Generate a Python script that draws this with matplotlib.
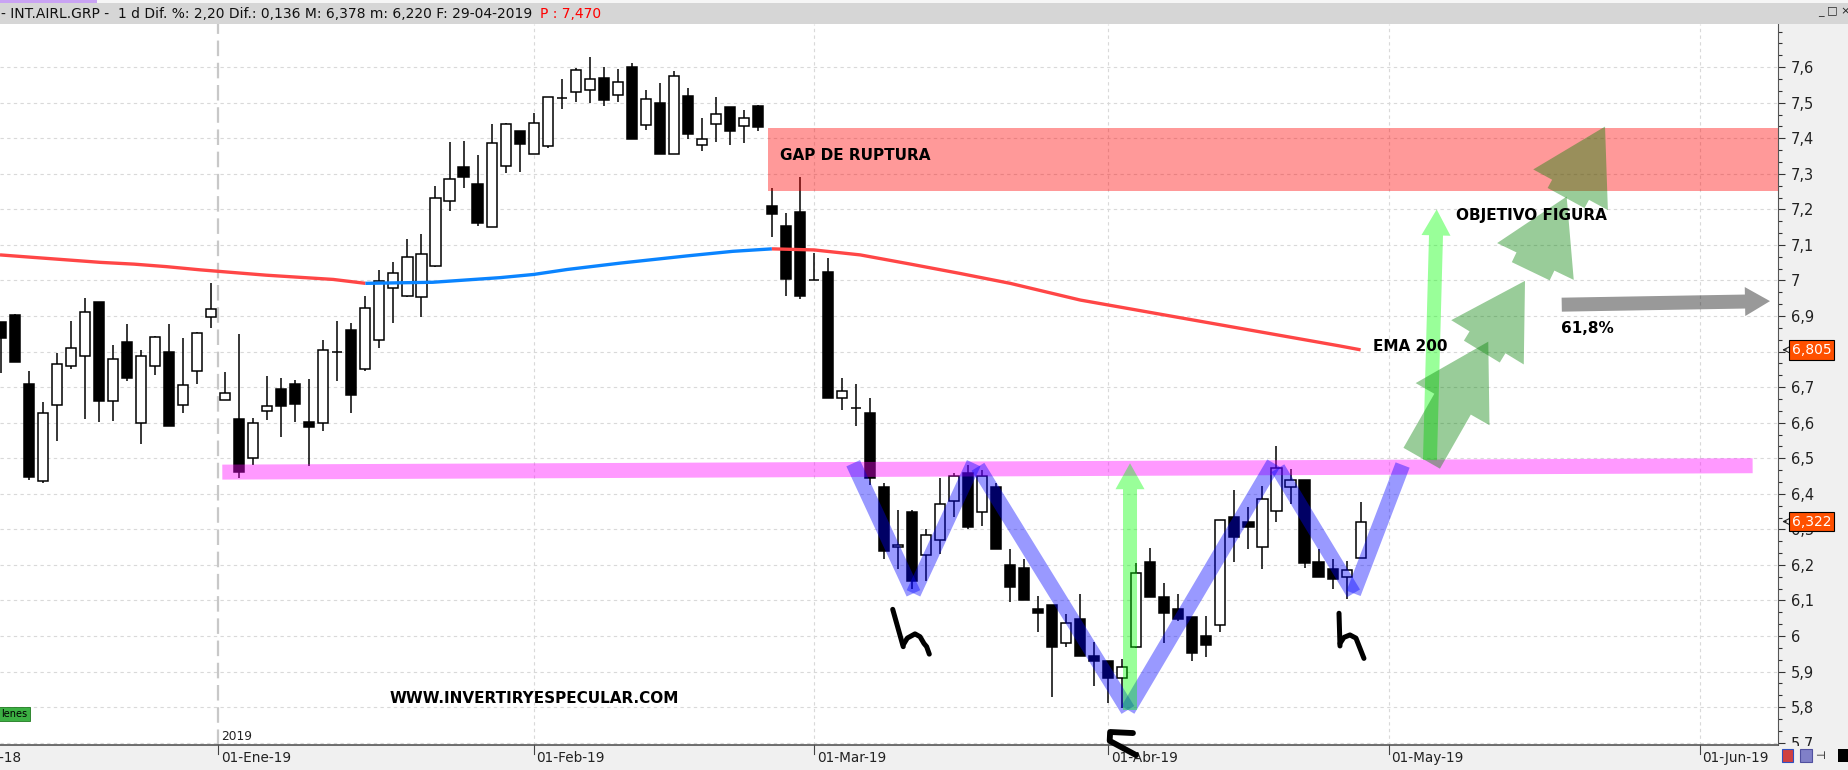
import numpy as np
import matplotlib
matplotlib.use("Agg")
import matplotlib.pyplot as plt
import matplotlib.transforms as mtransforms
from matplotlib.patches import Polygon, Rectangle
from matplotlib.ticker import FixedLocator, AutoMinorLocator, FuncFormatter

# velas diarias INT.AIRL.GRP; sesion 1 = primera visible (dic-2018), sesion 98 = 29-04-2019
opens = [6.884, 6.903, 6.709, 6.435, 6.649, 6.760, 6.787, 6.940, 6.660, 6.827,
         6.598, 6.759, 6.799, 6.649, 6.745, 6.896, 6.663, 6.610, 6.500, 6.632,
         6.695, 6.709, 6.602, 6.598, 6.798, 6.861, 6.750, 6.834, 6.978, 6.957,
         6.953, 7.042, 7.225, 7.319, 7.271, 7.150, 7.321, 7.421, 7.355, 7.379,
         7.514, 7.529, 7.535, 7.569, 7.521, 7.600, 7.436, 7.499, 7.355, 7.519,
         7.380, 7.439, 7.488, 7.434, 7.491, 7.210, 7.153, 7.193, 7.001, 7.024,
         6.669, 6.640, 6.627, 6.419, 6.249, 6.348, 6.227, 6.269, 6.379, 6.458,
         6.348, 6.419, 6.200, 6.191, 6.076, 6.087, 5.980, 6.048, 5.944, 5.930,
         5.881, 5.970, 6.207, 6.109, 6.075, 6.053, 5.999, 6.030, 6.335, 6.320,
         6.250, 6.351, 6.418, 6.439, 6.207, 6.188, 6.165, 6.220]
highs = [6.884, 6.906, 6.745, 6.658, 6.796, 6.886, 6.951, 6.940, 6.819, 6.878,
         6.805, 6.844, 6.878, 6.838, 6.855, 6.993, 6.743, 6.850, 6.613, 6.731,
         6.727, 6.720, 6.723, 6.833, 6.886, 6.880, 6.956, 7.030, 7.051, 7.117,
         7.131, 7.266, 7.390, 7.392, 7.353, 7.440, 7.443, 7.421, 7.471, 7.515,
         7.567, 7.598, 7.629, 7.600, 7.595, 7.611, 7.536, 7.556, 7.588, 7.541,
         7.457, 7.515, 7.488, 7.479, 7.495, 7.260, 7.190, 7.292, 7.076, 7.063,
         6.727, 6.709, 6.669, 6.429, 6.354, 6.354, 6.301, 6.445, 6.458, 6.482,
         6.467, 6.429, 6.245, 6.217, 6.112, 6.087, 6.062, 6.118, 5.983, 5.930,
         5.934, 6.204, 6.247, 6.148, 6.117, 6.053, 6.055, 6.325, 6.411, 6.362,
         6.422, 6.534, 6.469, 6.439, 6.245, 6.217, 6.211, 6.378]
lows = [6.741, 6.772, 6.439, 6.429, 6.549, 6.752, 6.609, 6.603, 6.606, 6.718,
        6.541, 6.734, 6.592, 6.628, 6.710, 6.865, 6.663, 6.445, 6.481, 6.608,
        6.561, 6.603, 6.479, 6.578, 6.718, 6.628, 6.746, 6.811, 6.880, 6.954,
        6.898, 7.039, 7.196, 7.261, 7.154, 7.150, 7.303, 7.306, 7.355, 7.372,
        7.483, 7.503, 7.498, 7.492, 7.503, 7.399, 7.422, 7.357, 7.355, 7.397,
        7.365, 7.389, 7.382, 7.386, 7.421, 7.123, 6.957, 6.947, 7.001, 6.670,
        6.635, 6.592, 6.425, 6.218, 6.189, 6.131, 6.155, 6.232, 6.336, 6.301,
        6.310, 6.246, 6.097, 6.100, 6.010, 5.829, 5.968, 5.945, 5.860, 5.811,
        5.797, 5.965, 6.111, 5.981, 6.043, 5.931, 5.940, 6.010, 6.208, 6.246,
        6.189, 6.322, 6.371, 6.192, 6.167, 6.133, 6.104, 6.220]
closes = [6.839, 6.772, 6.448, 6.626, 6.764, 6.809, 6.910, 6.662, 6.778, 6.727,
          6.787, 6.840, 6.592, 6.705, 6.851, 6.919, 6.683, 6.462, 6.598, 6.646,
          6.648, 6.654, 6.589, 6.804, 6.798, 6.677, 6.924, 6.999, 7.020, 7.065,
          7.074, 7.231, 7.285, 7.292, 7.163, 7.386, 7.439, 7.385, 7.442, 7.515,
          7.514, 7.591, 7.566, 7.508, 7.557, 7.399, 7.510, 7.357, 7.574, 7.413,
          7.397, 7.467, 7.421, 7.456, 7.433, 7.188, 7.005, 6.957, 7.001, 6.670,
          6.689, 6.640, 6.445, 6.240, 6.256, 6.156, 6.283, 6.370, 6.449, 6.308,
          6.449, 6.246, 6.137, 6.100, 6.064, 5.968, 6.036, 5.945, 5.931, 5.883,
          5.912, 6.176, 6.111, 6.066, 6.049, 5.951, 5.976, 6.325, 6.279, 6.308,
          6.384, 6.472, 6.438, 6.204, 6.167, 6.161, 6.185, 6.322]

# EMA 200 (sesion, precio); tramo azul mientras sube
ema_x = [0.93, 3.3, 5.7, 8.1, 10.5, 12.8, 15.2, 19.9, 24.7, 27.0, 31.8, 36.6, 39.0,
         41.4, 45.2, 49.9, 53.2, 56.0, 59.0, 62.3, 65.9, 69.4, 73.0, 78.0, 96.5, 98.0]
ema_y = [7.072, 7.065, 7.058, 7.051, 7.046, 7.039, 7.030, 7.015, 7.003, 6.992, 6.995,
         7.008, 7.017, 7.031, 7.049, 7.069, 7.082, 7.089, 7.086, 7.072, 7.046, 7.020,
         6.992, 6.945, 6.816, 6.805]
ema_up = (27.0, 56.0)

month_labels = ['01-Dic-18', '01-Ene-19', '01-Feb-19', '01-Mar-19', '01-Abr-19',
                '01-May-19', '01-Jun-19']
month_pos = [-2.5, 16.5, 39, 59, 80, 100, 122.2]
price_ticks = [5.7, 5.8, 5.9, 6.0, 6.1, 6.2, 6.3, 6.4, 6.5, 6.6, 6.7, 6.8, 6.9,
               7.0, 7.1, 7.2, 7.3, 7.4, 7.5, 7.6]
price_tags = [6.805, 6.322]

# dibujos del analista
gap_zone = [55.7, 7.252, 7.430]
neck_x = [16.79, 125.97]
neck_y = [6.461, 6.479]
zigzag = [[(61.8, 6.486), (66.1, 6.120)], [(66.1, 6.120), (70.4, 6.486)],
          [(70.7, 6.476), (81.4, 5.792)], [(81.4, 5.792), (91.8, 6.486)],
          [(92.1, 6.472), (97.5, 6.120)], [(97.5, 6.120), (101.0, 6.481)]]
thin_arrows = [[(81.55, 5.792), (81.55, 6.486)], [(102.95, 6.495), (103.43, 7.200)]]
big_arrows = [[(102.36, 6.500), (107.11, 6.828)], [(106.65, 6.800), (109.73, 6.999)],
              [(110.14, 7.026), (112.70, 7.236)], [(112.66, 7.232), (115.44, 7.433)]]
grey_arrow = [(112.35, 6.932), (127.21, 6.942)]
h_marks = [
    [[64.62, 65.37], [6.075, 5.970]],
    [[65.37, 65.66, 66.21, 66.57, 66.85, 67.04, 67.23],
     [5.975, 5.994, 6.006, 5.998, 5.979, 5.970, 5.949]],
    [[96.46, 96.53], [6.064, 5.972]],
    [[96.53, 96.81, 97.24, 97.67, 97.91, 98.24],
     [5.979, 5.996, 6.003, 5.994, 5.970, 5.937]],
]
c_mark = [[81.76, 80.13, 80.10, 81.98], [5.727, 5.730, 5.705, 5.665]]

W, H = 1848, 770


def block_arrow(ax, tail, tip, w, hw, hl, color):
    # flecha de bloque con medidas en pixeles
    t = ax.transData.transform(tail)
    p = ax.transData.transform(tip)
    u = (p - t) / np.hypot(*(p - t))
    n = np.array([-u[1], u[0]])
    b = p - u * hl
    pts = [t + n * w / 2, b + n * w / 2, b + n * hw / 2, p,
           b - n * hw / 2, b - n * w / 2, t - n * w / 2]
    pts = ax.transData.inverted().transform(np.array(pts))
    ax.add_patch(Polygon(pts, closed=True, fc=color, ec='none', alpha=0.4, zorder=4))


def fmt_price(v, pos=None):
    # la etiqueta 6,8 queda tapada por el recuadro de la EMA
    if abs(v - 6.8) < 1e-6:
        return ''
    s = '%.1f' % v
    if s.endswith('.0'):
        s = s[:-2]
    return s.replace('.', ',')


fig = plt.figure(figsize=(W / 100, H / 100), dpi=100, facecolor='#f0f0f0')
ax = fig.add_axes([0, 25 / H, 1778 / W, 721 / H])
ax.set_facecolor('white')
ax.set_xlim(0.93, 127.78)
ax.set_ylim(5.6934, 7.7215)

for s in ['left', 'top']:
    ax.spines[s].set_visible(False)
ax.spines['bottom'].set_color('#555555')
ax.spines['bottom'].set_linewidth(1.2)
ax.spines['right'].set_color('#555555')
ax.spines['right'].set_linewidth(0.8)

ax.set_xticks([])
ax.yaxis.tick_right()
ax.yaxis.set_major_locator(FixedLocator(price_ticks))
ax.yaxis.set_minor_locator(AutoMinorLocator(3))
ax.yaxis.set_major_formatter(FuncFormatter(fmt_price))
ax.tick_params(axis='y', which='major', length=5, width=0.8, color='#333333',
               labelsize=10.5, labelcolor='#222222', pad=4)
ax.tick_params(axis='y', which='minor', length=3, width=0.8, color='#333333')

# rejilla
for v in price_ticks:
    ax.axhline(v, color='#d9d9d9', lw=0.8, ls=(0, (3, 3)), zorder=0.5)
for p in month_pos[2:]:
    ax.axvline(p, color='#d9d9d9', lw=0.8, ls=(0, (3, 3)), zorder=0.5)
ax.axvline(month_pos[1], color='#c8c8c8', lw=1.6, ls=(0, (7, 3)), zorder=0.5)

# eje de fechas
xt = mtransforms.blended_transform_factory(ax.transData, ax.transAxes)
shift = mtransforms.ScaledTranslation(2 / 72, 0, fig.dpi_scale_trans)
for p, lbl in zip(month_pos, month_labels):
    ax.plot([p, p], [0, -0.012], transform=xt, color='#444444', lw=0.8, clip_on=False)
    ax.text(p, -0.018, lbl, transform=xt + shift, ha='left', va='center',
            fontsize=9.8, color='#222222', clip_on=False)
ax.text(month_pos[1], 5.716, '2019', transform=ax.transData + shift, ha='left',
        va='center', fontsize=8.8, color='#222222')

# velas
x = np.arange(1, len(opens) + 1)
o = np.array(opens)
c = np.array(closes)
ax.vlines(x, lows, highs, color='black', lw=1.1, zorder=2)
ax.bar(x, np.abs(c - o), bottom=np.minimum(o, c), width=0.72,
       color=np.where(c >= o, 'white', 'black'), edgecolor='black', linewidth=1.1, zorder=2.2)

# EMA 200
ex = np.array(ema_x)
ey = np.array(ema_y)
m1 = ex <= ema_up[0]
m2 = (ex >= ema_up[0]) & (ex <= ema_up[1])
m3 = ex >= ema_up[1]
ax.plot(ex[m1], ey[m1], color='#ff4646', lw=2.4, zorder=3, solid_capstyle='butt')
ax.plot(ex[m2], ey[m2], color='#0a84ff', lw=2.4, zorder=3, solid_capstyle='butt')
ax.plot(ex[m3], ey[m3], color='#ff4646', lw=2.4, zorder=3, solid_capstyle='butt')

# zona del gap y linea clavicular
ax.add_patch(Rectangle((gap_zone[0], gap_zone[1]), 140 - gap_zone[0], gap_zone[2] - gap_zone[1],
                       fc='#ff0000', ec='none', alpha=0.4, zorder=4))
ax.plot(neck_x, neck_y, color='#ff00ff', alpha=0.4, lw=10.8, solid_capstyle='butt', zorder=4)

for a, b in zigzag:
    ax.plot([a[0], b[0]], [a[1], b[1]], color='#0000ff', alpha=0.4, lw=10.8,
            solid_capstyle='butt', zorder=4)

for tail, tip in thin_arrows:
    block_arrow(ax, tail, tip, 14, 29, 26, '#00ff00')
for tail, tip in big_arrows:
    block_arrow(ax, tail, tip, 42, 85, 72, '#008000')
block_arrow(ax, grey_arrow[0], grey_arrow[1], 14, 29, 25, '#000000')

for hx, hy in h_marks:
    ax.plot(hx, hy, color='black', lw=3.6, solid_capstyle='round',
            solid_joinstyle='round', zorder=6)
ax.plot(c_mark[0], c_mark[1], color='black', lw=4.2, solid_capstyle='round',
        solid_joinstyle='round', zorder=6, clip_on=False)

bold = dict(fontsize=11, fontweight='bold', color='black', va='center', ha='left', zorder=7)
ax.text(56.56, 7.353, 'GAP DE RUPTURA', **bold)
ax.text(104.81, 7.183, 'OBJETIVO FIGURA', **bold)
ax.text(112.28, 6.866, '61,8%', **bold)
ax.text(98.88, 6.814, 'EMA 200', **bold)
ax.text(28.70, 5.825, 'WWW.INVERTIRYESPECULAR.COM', fontsize=11, fontweight='bold',
        color='black', va='center', ha='left', zorder=7)

# etiquetas de precio en el eje
yt = mtransforms.blended_transform_factory(ax.transAxes, ax.transData)
for v in price_tags:
    ax.text(1 + 14 / 1778, v, ('%.3f' % v).replace('.', ','),
            transform=yt, ha='left', va='center', fontsize=10, color='white', zorder=10,
            clip_on=False,
            bbox=dict(boxstyle='square,pad=0.2', fc='#ff5000', ec='black', lw=0.8))
    ax.annotate('', xy=(1.0008, v), xytext=(1 + 11 / 1778, v), xycoords=yt,
                arrowprops=dict(arrowstyle='->', lw=0.8, color='#222222'), annotation_clip=False)

# cabecera y detalles de la ventana
fig.patches.append(Rectangle((0, 1 - 24 / H), 1, 21 / H, transform=fig.transFigure,
                             fc='#d6d6d6', ec='none', zorder=1))
fig.patches.append(Rectangle((0, 1 - 3 / H), 1, 3 / H, transform=fig.transFigure,
                             fc='#f6f6f6', ec='none', zorder=1))
fig.patches.append(Rectangle((0, 1 - 3 / H), 97 / W, 3 / H, transform=fig.transFigure,
                             fc='#c9a3f3', ec='none', zorder=1))
fig.text(1 / W, 1 - 14 / H, '- INT.AIRL.GRP -  1 d Dif. %: 2,20 Dif.: 0,136 M: 6,378 m: 6,220 F: 29-04-2019',
         fontsize=10, va='center', ha='left', color='#111111')
fig.text(540 / W, 1 - 14 / H, 'P : 7,470', fontsize=10, va='center', ha='left', color='#ff0000')
fig.text(1818 / W, 1 - 11 / H, '_ \u25a1 \u00d7', fontsize=8, va='center', ha='left', color='#222222')

fig.patches.append(Rectangle((1778 / W, 0), 70 / W, 24 / H, transform=fig.transFigure,
                             fc='#f0f0f0', ec='none', zorder=1))
fig.patches.append(Rectangle((1782 / W, 8 / H), 11 / W, 13 / H, transform=fig.transFigure,
                             fc='#d04040', ec='#3050c0', lw=0.8, zorder=2))
fig.patches.append(Rectangle((1800 / W, 8 / H), 12 / W, 13 / H, transform=fig.transFigure,
                             fc='#8080c8', ec='#5050a0', lw=0.8, zorder=2))
fig.text(1815 / W, 14 / H, '\u22a3', fontsize=8, va='center', ha='left', zorder=3)
fig.patches.append(Rectangle((1838 / W, 8 / H), 10 / W, 13 / H, transform=fig.transFigure,
                             fc='black', ec='none', zorder=2))

fig.text(1 / W, 1 - 714 / H, 'lenes', fontsize=7, va='center', ha='left', color='black',
         bbox=dict(boxstyle='square,pad=0.25', fc='#3cb043', ec='#1f7a1f', lw=0.6))

fig.savefig('out.png', dpi=100, facecolor=fig.get_facecolor())
